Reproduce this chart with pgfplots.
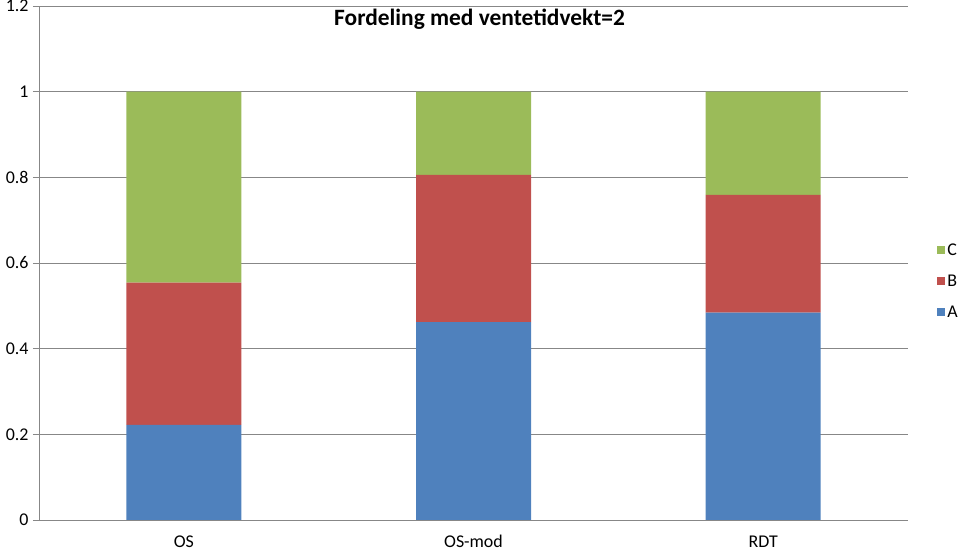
\documentclass[border=0pt]{standalone}
\usepackage{fontspec}
\setmainfont{Carlito}
\usepackage{pgfplots}
\pgfplotsset{compat=1.18}

\definecolor{serA}{HTML}{4F81BD}
\definecolor{serB}{HTML}{C0504D}
\definecolor{serC}{HTML}{9BBB59}
\definecolor{axgray}{HTML}{878787}

\begin{document}
\begin{tikzpicture}
\path[use as bounding box] (-39bp,-35bp) rectangle (921bp,520bp);
\begin{axis}[
  scale only axis,
  width=869bp, height=514bp,
  ybar stacked,
  bar width=115bp,
  xmin=-0.5, xmax=2.5,
  ymin=0, ymax=1.2,
  xtick={0,1,2},
  xticklabels={OS,OS-mod,RDT},
  extra x ticks={0.5,1.5,2.5},
  extra x tick labels={},
  extra x tick style={major tick length=6bp, grid=none},
  ytick={0,0.2,0.4,0.6,0.8,1,1.2},
  axis lines=left,
  axis line style={axgray, line width=0.8bp, -},
  every tick/.style={axgray, line width=0.8bp},
  tick align=outside,
  major tick length=6bp,
  x tick style={draw=none},
  ymajorgrids,
  major grid style={axgray, line width=0.8bp},
  /pgf/number format/assume math mode=true,
  tick label style={font=\fontsize{18}{21}\selectfont},
  xticklabel style={yshift=-6bp},
  yticklabel style={xshift=-1bp},
  reverse legend,
  legend style={draw=none, fill=none, at={(1.03,0.465)}, anchor=west,
    font=\fontsize{18}{21}\selectfont, row sep=14bp,
    /tikz/every even column/.append style={column sep=2bp}},
  legend cell align=left,
  legend image code/.code={\fill[#1] (0bp,-4bp) rectangle (8bp,4bp);},
]
\addplot[fill=serA, draw=none] coordinates {(0,0.222) (1,0.462) (2,0.484)};
\addlegendentry{A}
\addplot[fill=serB, draw=none] coordinates {(0,0.332) (1,0.344) (2,0.275)};
\addlegendentry{B}
\addplot[fill=serC, draw=none] coordinates {(0,0.446) (1,0.194) (2,0.241)};
\addlegendentry{C}
\node[anchor=north, font=\bfseries\fontsize{23.5}{27}\selectfont, inner sep=0pt]
  at (rel axis cs:0.507,0.995) {Fordeling med ventetidvekt=2};
\end{axis}
\end{tikzpicture}
\end{document}
